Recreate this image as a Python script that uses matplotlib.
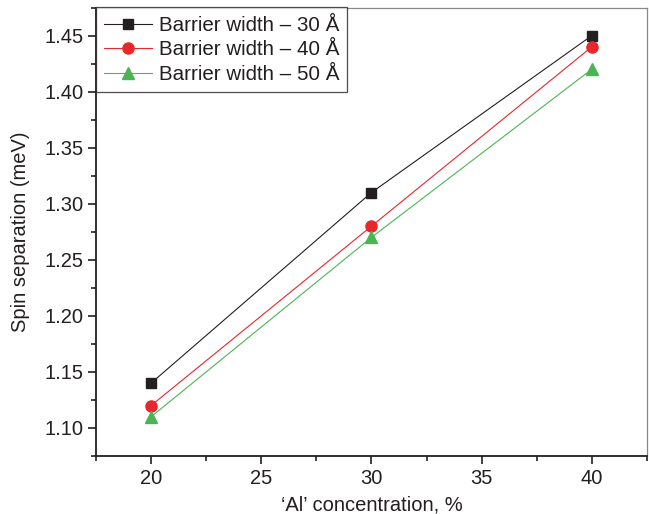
import matplotlib
matplotlib.use("Agg")
import matplotlib.pyplot as plt
from matplotlib.ticker import MultipleLocator

al_conc = [20, 30, 40]
w30 = [1.14, 1.31, 1.45]
w40 = [1.12, 1.28, 1.44]
w50 = [1.11, 1.27, 1.42]
labels = ["Barrier width – 30 Å", "Barrier width – 40 Å", "Barrier width – 50 Å"]

plt.rcParams['font.family'] = ['Liberation Sans', 'DejaVu Sans']

fig = plt.figure(figsize=(6.49, 5.14), dpi=100)
ax = fig.add_axes([96/649, 1-456/514, (647-96)/649, (456-7.5)/514])

ax.plot(al_conc, w30, '-s', color='#231f20', lw=0.8, ms=7, label=labels[0])
ax.plot(al_conc, w40, '-o', color='#e8262c', lw=0.8, ms=8, label=labels[1])
ax.plot(al_conc, w50, '-^', color='#4db454', lw=0.8, ms=8, label=labels[2])

ax.set_xlim(17.5, 42.5)
ax.set_ylim(1.075, 1.475)
ax.xaxis.set_major_locator(MultipleLocator(5))
ax.xaxis.set_minor_locator(MultipleLocator(2.5))
ax.yaxis.set_major_locator(MultipleLocator(0.05))
ax.yaxis.set_minor_locator(MultipleLocator(0.025))
ax.yaxis.set_major_formatter(matplotlib.ticker.FormatStrFormatter('%.2f'))
ax.tick_params(which='major', direction='out', length=6, width=1.2, labelsize=14.5, colors='#231f20', pad=3)
ax.tick_params(which='minor', direction='out', length=3.5, width=1.2, colors='#231f20')
for s in ['left', 'bottom']:
    ax.spines[s].set_linewidth(1.3)
    ax.spines[s].set_color('#231f20')
for s in ['top', 'right']:
    ax.spines[s].set_linewidth(0.9)
    ax.spines[s].set_color('#888888')

ax.set_xlabel("‘Al’ concentration, %", fontsize=14.5, color='#231f20', labelpad=6)
ax.set_ylabel("Spin separation (meV)", fontsize=14.5, color='#231f20', labelpad=10)

leg = ax.legend(loc='upper left', fontsize=14.8, frameon=True, fancybox=False,
                edgecolor='#231f20', borderaxespad=0, handlelength=2.3,
                handletextpad=0.35, labelspacing=0.28, borderpad=0.4)
leg.get_frame().set_linewidth(0.9)
for t in leg.get_texts():
    t.set_color('#231f20')

fig.savefig("out.png", dpi=100)
